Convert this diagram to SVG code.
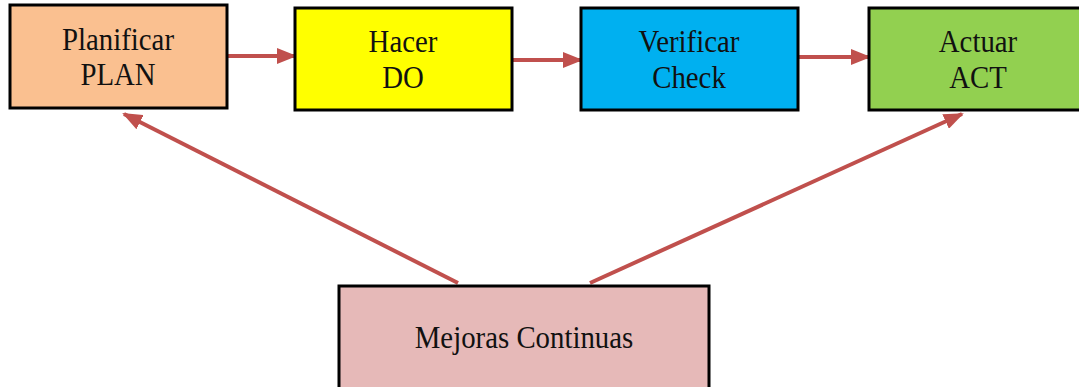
<svg xmlns="http://www.w3.org/2000/svg" width="1079" height="387" viewBox="0 0 1079 387">
  <style>
    .box { stroke: #000; stroke-width: 3; }
    .lbl { font-family: "Liberation Serif", "Times New Roman", serif; font-size: 31px; fill: #111; text-anchor: middle; }
    .link { stroke: #C0504D; stroke-width: 4; fill: none; marker-end: url(#head); }
  </style>
  <defs>
    <marker id="head" markerWidth="5" markerHeight="4" refX="4.5" refY="2" orient="auto" markerUnits="strokeWidth">
      <path d="M0,0 L5,2 L0,4 Z" fill="#C0504D"/>
    </marker>
  </defs>
  <rect width="1079" height="387" fill="#fff"/>

  <g id="connectors">
    <line class="link" x1="227" y1="56" x2="295" y2="56"/>
    <line class="link" x1="512" y1="60" x2="581" y2="60"/>
    <line class="link" x1="798" y1="57" x2="869" y2="57"/>
    <line class="link" x1="458" y1="283" x2="124" y2="114"/>
    <line class="link" x1="590" y1="283" x2="962" y2="114"/>
  </g>

  <!-- labels are set slightly condensed -->
  <g id="plan">
    <rect class="box" x="10" y="5" width="217" height="103" fill="#FAC090"/>
    <text class="lbl" transform="translate(118,50) scale(0.93,1)">Planificar</text>
    <text class="lbl" transform="translate(118,85) scale(0.93,1)">PLAN</text>
  </g>
  <g id="do">
    <rect class="box" x="295" y="8" width="217" height="102" fill="#FFFF00"/>
    <text class="lbl" transform="translate(403,52) scale(0.93,1)">Hacer</text>
    <text class="lbl" transform="translate(403,88) scale(0.93,1)">DO</text>
  </g>
  <g id="check">
    <rect class="box" x="581" y="8" width="217" height="102" fill="#00B0F0"/>
    <text class="lbl" transform="translate(689,52) scale(0.93,1)">Verificar</text>
    <text class="lbl" transform="translate(689,88) scale(0.93,1)">Check</text>
  </g>
  <g id="act">
    <rect class="box" x="869" y="8" width="217" height="102" fill="#92D050"/>
    <text class="lbl" transform="translate(978,52) scale(0.93,1)">Actuar</text>
    <text class="lbl" transform="translate(978,88) scale(0.93,1)">ACT</text>
  </g>
  <g id="mejoras">
    <rect class="box" x="339" y="286" width="370" height="110" fill="#E6B9B8"/>
    <text class="lbl" transform="translate(524,348) scale(0.93,1)">Mejoras Continuas</text>
  </g>
</svg>
